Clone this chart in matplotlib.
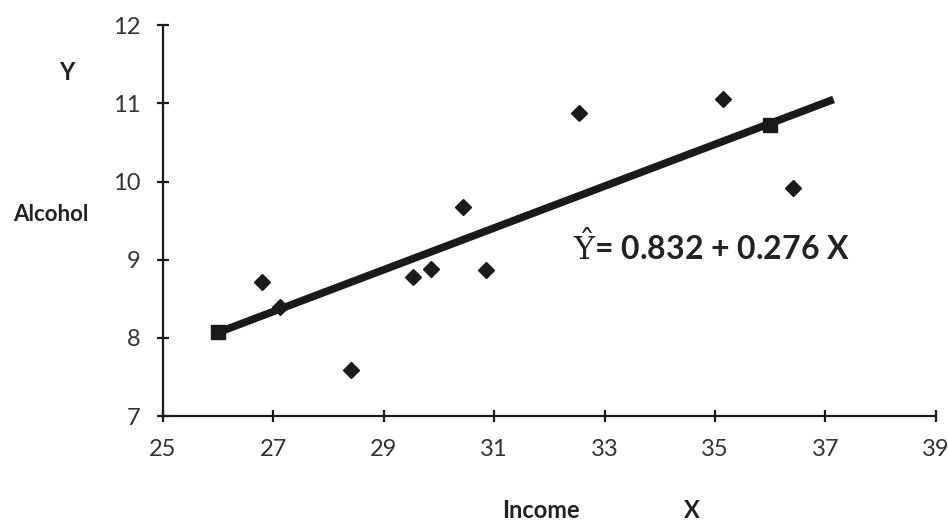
import matplotlib
matplotlib.use("Agg")
import matplotlib.pyplot as plt

# Data
income = [26.79, 27.12, 28.40, 29.52, 29.85, 30.44, 30.86, 32.54, 35.14, 36.41]
alcohol = [8.71, 8.40, 7.59, 8.78, 8.88, 9.67, 8.87, 10.87, 11.05, 9.92]
fit_x = [26.0, 37.15]
fit_y = [8.07, 11.05]
fit_pts_x = [26.0, 36.0]
fit_pts_y = [8.07, 10.72]
x_ticks = [25, 27, 29, 31, 33, 35, 37, 39]
y_ticks = [7, 8, 9, 10, 11, 12]

FONT = ["Lato", "DejaVu Sans"]
INK = "#222222"

fig = plt.figure(figsize=(9.48, 5.24), dpi=100)
ax = fig.add_axes([0.172, 0.206, 0.815, 0.746])

ax.plot(fit_x, fit_y, color="#1a1a1a", lw=5.5, solid_capstyle="butt", zorder=2)
ax.plot(fit_pts_x, fit_pts_y, ls="none", marker="s", ms=10.5, color="#1a1a1a", zorder=3)
ax.plot(income, alcohol, ls="none", marker="D", ms=8, color="#1a1a1a", zorder=3)

ax.set_xlim(25, 39)
ax.set_ylim(7, 12)
ax.set_xticks(x_ticks)
ax.set_yticks(y_ticks)
for s in ["top", "right"]:
    ax.spines[s].set_visible(False)
for s in ["left", "bottom"]:
    ax.spines[s].set_linewidth(1.6)
    ax.spines[s].set_color("#1a1a1a")
ax.tick_params(axis="both", direction="inout", length=9, width=1.6, color="#1a1a1a")
ax.tick_params(axis="x", pad=12)
ax.tick_params(axis="y", pad=12)
for lab in ax.get_xticklabels() + ax.get_yticklabels():
    lab.set_family(FONT)
    lab.set_fontsize(17)
    lab.set_color("#333333")

fig.text(67 / 948, 1 - 73 / 524, "Y", family=FONT, fontsize=17, fontweight="bold",
         ha="center", va="center", color=INK)
fig.text(51 / 948, 1 - 215 / 524, "Alcohol", family=FONT, fontsize=16, fontweight="bold",
         ha="center", va="center", color=INK)
fig.text(541 / 948, 1 - 510 / 524, "Income", family=FONT, fontsize=17, fontweight="bold",
         ha="center", va="center", color=INK)
fig.text(692 / 948, 1 - 510 / 524, "X", family=FONT, fontsize=17, fontweight="bold",
         ha="center", va="center", color=INK)

fig.text(573 / 948, 1 - 247 / 524, r"$\hat{\mathrm{Y}}$= 0.832 + 0.276 X", family=FONT,
         fontsize=23, fontweight="bold", ha="left", va="center", color=INK,
         math_fontfamily="dejavuserif")

fig.savefig("out.png", dpi=100)
